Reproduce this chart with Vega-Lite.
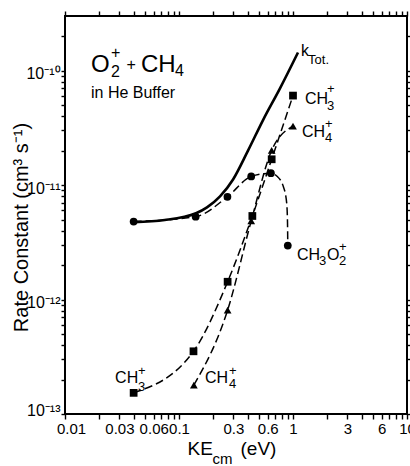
{
  "$schema": "https://vega.github.io/schema/vega-lite/v6.json",
  "width": 342,
  "height": 398,
  "autosize": {"type": "none"},
  "padding": {"left": 65, "top": 16, "right": 3, "bottom": 52},
  "background": "white",
  "config": {
    "font": "Liberation Sans",
    "view": {"stroke": "black", "strokeWidth": 2},
    "axis": {
      "grid": false,
      "domain": false,
      "tickColor": "black",
      "tickWidth": 1.4,
      "labelColor": "black",
      "titleColor": "black",
      "labelFont": "Liberation Sans",
      "titleFont": "Liberation Sans",
      "titleFontWeight": "normal",
      "labelFlush": false,
      "labelOverlap": false
    }
  },
  "datasets": {
    "ktot": [
      {"ke": 0.04, "k": 4.75e-12},
      {"ke": 0.075, "k": 4.95e-12},
      {"ke": 0.141, "k": 5.67e-12},
      {"ke": 0.176, "k": 6.39e-12},
      {"ke": 0.229, "k": 7.97e-12},
      {"ke": 0.298, "k": 1.12e-11},
      {"ke": 0.403, "k": 2.0e-11},
      {"ke": 0.546, "k": 3.7e-11},
      {"ke": 0.769, "k": 7.0e-11},
      {"ke": 1.106, "k": 1.44e-10}
    ],
    "ch3o2curve": [
      {"ke": 0.04, "k": 4.8e-12},
      {"ke": 0.14, "k": 5.3e-12},
      {"ke": 0.266, "k": 7.9e-12},
      {"ke": 0.43, "k": 1.19e-11},
      {"ke": 0.64, "k": 1.27e-11},
      {"ke": 0.72, "k": 1.2e-11},
      {"ke": 0.82, "k": 9.8e-12},
      {"ke": 0.88, "k": 7.0e-12},
      {"ke": 0.895, "k": 4.7e-12},
      {"ke": 0.9, "k": 2.96e-12}
    ],
    "markers": [
      {"species": "CH3O2+", "ke": 0.04, "k": 4.8e-12},
      {"species": "CH3O2+", "ke": 0.14, "k": 5.3e-12},
      {"species": "CH3O2+", "ke": 0.266, "k": 7.9e-12},
      {"species": "CH3O2+", "ke": 0.43, "k": 1.19e-11},
      {"species": "CH3O2+", "ke": 0.64, "k": 1.27e-11},
      {"species": "CH3O2+", "ke": 0.9, "k": 2.96e-12},
      {"species": "CH3+", "ke": 0.04, "k": 1.53e-13},
      {"species": "CH3+", "ke": 0.134, "k": 3.53e-13},
      {"species": "CH3+", "ke": 0.267, "k": 1.43e-12},
      {"species": "CH3+", "ke": 0.44, "k": 5.37e-12},
      {"species": "CH3+", "ke": 0.65, "k": 1.68e-11},
      {"species": "CH3+", "ke": 1.0, "k": 6.05e-11},
      {"species": "CH4+", "ke": 0.135, "k": 1.79e-13},
      {"species": "CH4+", "ke": 0.267, "k": 8.09e-13},
      {"species": "CH4+", "ke": 0.43, "k": 4.86e-12},
      {"species": "CH4+", "ke": 0.65, "k": 2.01e-11},
      {"species": "CH4+", "ke": 1.0, "k": 3.27e-11}
    ],
    "caption": [
      {"text": "O", "ke": 0.0169, "k": 9.73e-11, "role": "large"},
      {"text": "CH", "ke": 0.0464, "k": 9.73e-11, "role": "large"},
      {"text": "2", "ke": 0.0253, "k": 8.79e-11, "role": "small"},
      {"text": "+", "ke": 0.0253, "k": 1.29e-10, "role": "small"},
      {"text": "+", "ke": 0.0346, "k": 1.01e-10, "role": "small"},
      {"text": "4", "ke": 0.0923, "k": 8.98e-11, "role": "small"},
      {"text": "in He  Buffer", "ke": 0.0169, "k": 5.77e-11, "role": "note"}
    ],
    "labels": [
      {"text": "k", "ke": 1.175, "k": 1.34e-10, "role": "base"},
      {"text": "Tot.", "ke": 1.355, "k": 1.14e-10, "role": "script"},
      {"text": "CH", "ke": 1.274, "k": 5.11e-11, "role": "base"},
      {"text": "3", "ke": 1.987, "k": 4.53e-11, "role": "script"},
      {"text": "+", "ke": 1.987, "k": 6.34e-11, "role": "script"},
      {"text": "CH", "ke": 1.2, "k": 2.63e-11, "role": "base"},
      {"text": "4", "ke": 1.91, "k": 2.38e-11, "role": "script"},
      {"text": "+", "ke": 1.91, "k": 3.15e-11, "role": "script"},
      {"text": "CH", "ke": 1.084, "k": 2.21e-12, "role": "base"},
      {"text": "3", "ke": 1.69, "k": 2.0e-12, "role": "script"},
      {"text": "O", "ke": 1.987, "k": 2.21e-12, "role": "base"},
      {"text": "2", "ke": 2.53, "k": 2.0e-12, "role": "script"},
      {"text": "+", "ke": 2.53, "k": 2.67e-12, "role": "script"},
      {"text": "CH", "ke": 0.0275, "k": 1.87e-13, "role": "base"},
      {"text": "3", "ke": 0.0436, "k": 1.59e-13, "role": "script"},
      {"text": "+", "ke": 0.0436, "k": 2.19e-13, "role": "script"},
      {"text": "CH", "ke": 0.169, "k": 1.87e-13, "role": "base"},
      {"text": "4", "ke": 0.275, "k": 1.69e-13, "role": "script"},
      {"text": "+", "ke": 0.275, "k": 2.19e-13, "role": "script"}
    ]
  },
  "resolve": {"axis": {"x": "independent", "y": "independent"}},
  "layer": [
    {
      "data": {"name": "ktot"},
      "mark": {"type": "line", "color": "black", "strokeWidth": 2.6, "interpolate": "monotone"},
      "encoding": {
        "x": {
          "field": "ke", "type": "quantitative",
          "scale": {"type": "log", "domain": [0.01, 10], "nice": false},
          "axis": {
            "orient": "bottom",
            "values": [0.01, 0.02, 0.03, 0.04, 0.05, 0.06, 0.07, 0.08, 0.09, 0.1, 0.2, 0.3, 0.4, 0.5, 0.6, 0.7, 0.8, 0.9, 1, 2, 3, 4, 5, 6, 7, 8, 9, 10],
            "ticks": true,
            "tickSize": 5,
            "labelExpr": "indexof([0.01, 0.03, 0.06, 0.1, 0.3, 0.6, 1, 3, 6, 10], datum.value) >= 0 ? format(datum.value, '~g') : ''",
            "labelFontSize": 15,
            "labelPadding": 2,
            "labelOffset": {"condition": {"test": "datum.value < 0.015", "value": 6}, "value": 0},
            "title": "KE",
            "titleFontSize": 19,
            "titleX": 122,
            "titleY": 40,
            "titleAlign": "left",
            "titleBaseline": "alphabetic",
            "titleAnchor": null
          }
        },
        "y": {
          "field": "k", "type": "quantitative",
          "scale": {"type": "log", "domain": [1e-13, 3e-10], "nice": false},
          "axis": {
            "orient": "left",
            "values": [1e-13, 2e-13, 3e-13, 4e-13, 5e-13, 6e-13, 7e-13, 8e-13, 9e-13, 1e-12, 2e-12, 3e-12, 4e-12, 5e-12, 6e-12, 7e-12, 8e-12, 9e-12, 1e-11, 2e-11, 3e-11, 4e-11, 5e-11, 6e-11, 7e-11, 8e-11, 9e-11, 1e-10, 2e-10],
            "ticks": true,
            "tickSize": 4,
            "labelExpr": "abs(log(datum.value)/LN10 - round(log(datum.value)/LN10)) > 0.01 ? '' : datum.value < 5e-13 ? '10⁻¹³' : datum.value < 5e-12 ? '10⁻¹²' : datum.value < 5e-11 ? '10⁻¹¹' : '10⁻¹⁰'",
            "labelFontSize": 16,
            "labelPadding": 1,
            "labelBaseline": "middle",
            "labelOffset": {"condition": {"test": "datum.value < 1.5e-13", "value": -4}, "value": 3},
            "title": "Rate Constant (cm³ s⁻¹)",
            "titleFontSize": 20,
            "titleX": -38,
            "titleY": 211,
            "titleAngle": -90,
            "titleAlign": "center",
            "titleBaseline": "alphabetic",
            "titleAnchor": null
          }
        }
      }
    },
    {
      "data": {"name": "ch3o2curve"},
      "mark": {"type": "line", "color": "black", "strokeWidth": 1.5, "strokeDash": [8, 4], "interpolate": "monotone"},
      "encoding": {
        "x": {
          "field": "ke", "type": "quantitative",
          "scale": {"type": "log", "domain": [0.01, 10], "nice": false},
          "axis": {
            "orient": "bottom", "ticks": false, "labels": false,
            "title": "cm", "titleFontSize": 15,
            "titleX": 147, "titleY": 49,
            "titleAlign": "left", "titleBaseline": "alphabetic", "titleAnchor": null
          }
        },
        "y": {
          "field": "k", "type": "quantitative",
          "scale": {"type": "log", "domain": [1e-13, 3e-10], "nice": false},
          "axis": {
            "orient": "right", "labels": false, "title": null,
            "values": [1e-13, 2e-13, 3e-13, 4e-13, 5e-13, 6e-13, 7e-13, 8e-13, 9e-13, 1e-12, 2e-12, 3e-12, 4e-12, 5e-12, 6e-12, 7e-12, 8e-12, 9e-12, 1e-11, 2e-11, 3e-11, 4e-11, 5e-11, 6e-11, 7e-11, 8e-11, 9e-11, 1e-10, 2e-10],
            "tickSize": 4
          }
        }
      }
    },
    {
      "data": {"name": "markers"},
      "transform": [{"filter": "datum.species === 'CH3+'"}],
      "mark": {"type": "line", "color": "black", "strokeWidth": 1.5, "strokeDash": [8, 4], "interpolate": "monotone"},
      "encoding": {
        "x": {
          "field": "ke", "type": "quantitative",
          "scale": {"type": "log", "domain": [0.01, 10], "nice": false},
          "axis": {
            "orient": "bottom", "ticks": false, "labels": false,
            "title": "(eV)", "titleFontSize": 19,
            "titleX": 175, "titleY": 40,
            "titleAlign": "left", "titleBaseline": "alphabetic", "titleAnchor": null
          }
        },
        "y": {
          "field": "k", "type": "quantitative",
          "scale": {"type": "log", "domain": [1e-13, 3e-10], "nice": false},
          "axis": null
        }
      }
    },
    {
      "data": {"name": "markers"},
      "transform": [{"filter": "datum.species === 'CH4+'"}],
      "mark": {"type": "line", "color": "black", "strokeWidth": 1.5, "strokeDash": [8, 4], "interpolate": "monotone"},
      "encoding": {
        "x": {
          "field": "ke", "type": "quantitative",
          "scale": {"type": "log", "domain": [0.01, 10], "nice": false},
          "axis": {
            "orient": "top", "labels": false, "title": null,
            "values": [0.01, 0.02, 0.03, 0.04, 0.05, 0.06, 0.07, 0.08, 0.09, 0.1, 0.2, 0.3, 0.4, 0.5, 0.6, 0.7, 0.8, 0.9, 1, 2, 3, 4, 5, 6, 7, 8, 9, 10],
            "tickSize": 5
          }
        },
        "y": {
          "field": "k", "type": "quantitative",
          "scale": {"type": "log", "domain": [1e-13, 3e-10], "nice": false},
          "axis": null
        }
      }
    },
    {
      "data": {"name": "markers"},
      "mark": {"type": "point", "filled": true, "color": "black", "opacity": 1, "size": 60},
      "encoding": {
        "x": {
          "field": "ke", "type": "quantitative",
          "scale": {"type": "log", "domain": [0.01, 10], "nice": false},
          "axis": null
        },
        "y": {
          "field": "k", "type": "quantitative",
          "scale": {"type": "log", "domain": [1e-13, 3e-10], "nice": false},
          "axis": null
        },
        "shape": {
          "field": "species", "type": "nominal",
          "scale": {"domain": ["CH3O2+", "CH3+", "CH4+"], "range": ["circle", "square", "triangle-up"]},
          "legend": null
        }
      }
    },
    {
      "data": {"name": "caption"},
      "transform": [{"filter": "datum.role === 'large'"}],
      "mark": {"type": "text", "align": "left", "baseline": "alphabetic", "fontSize": 24, "color": "black"},
      "encoding": {
        "x": {"field": "ke", "type": "quantitative", "scale": {"type": "log", "domain": [0.01, 10], "nice": false}, "axis": null},
        "y": {"field": "k", "type": "quantitative", "scale": {"type": "log", "domain": [1e-13, 3e-10], "nice": false}, "axis": null},
        "text": {"field": "text"}
      }
    },
    {
      "data": {"name": "caption"},
      "transform": [{"filter": "datum.role === 'small'"}],
      "mark": {"type": "text", "align": "left", "baseline": "alphabetic", "fontSize": 16, "color": "black"},
      "encoding": {
        "x": {"field": "ke", "type": "quantitative", "scale": {"type": "log", "domain": [0.01, 10], "nice": false}, "axis": null},
        "y": {"field": "k", "type": "quantitative", "scale": {"type": "log", "domain": [1e-13, 3e-10], "nice": false}, "axis": null},
        "text": {"field": "text"}
      }
    },
    {
      "data": {"name": "caption"},
      "transform": [{"filter": "datum.role === 'note'"}],
      "mark": {"type": "text", "align": "left", "baseline": "alphabetic", "fontSize": 16, "color": "black"},
      "encoding": {
        "x": {"field": "ke", "type": "quantitative", "scale": {"type": "log", "domain": [0.01, 10], "nice": false}, "axis": null},
        "y": {"field": "k", "type": "quantitative", "scale": {"type": "log", "domain": [1e-13, 3e-10], "nice": false}, "axis": null},
        "text": {"field": "text"}
      }
    },
    {
      "data": {"name": "labels"},
      "transform": [{"filter": "datum.role === 'base'"}],
      "mark": {"type": "text", "align": "left", "baseline": "alphabetic", "fontSize": 16, "color": "black"},
      "encoding": {
        "x": {"field": "ke", "type": "quantitative", "scale": {"type": "log", "domain": [0.01, 10], "nice": false}, "axis": null},
        "y": {"field": "k", "type": "quantitative", "scale": {"type": "log", "domain": [1e-13, 3e-10], "nice": false}, "axis": null},
        "text": {"field": "text"}
      }
    },
    {
      "data": {"name": "labels"},
      "transform": [{"filter": "datum.role === 'script'"}],
      "mark": {"type": "text", "align": "left", "baseline": "alphabetic", "fontSize": 13, "color": "black"},
      "encoding": {
        "x": {"field": "ke", "type": "quantitative", "scale": {"type": "log", "domain": [0.01, 10], "nice": false}, "axis": null},
        "y": {"field": "k", "type": "quantitative", "scale": {"type": "log", "domain": [1e-13, 3e-10], "nice": false}, "axis": null},
        "text": {"field": "text"}
      }
    }
  ]
}
